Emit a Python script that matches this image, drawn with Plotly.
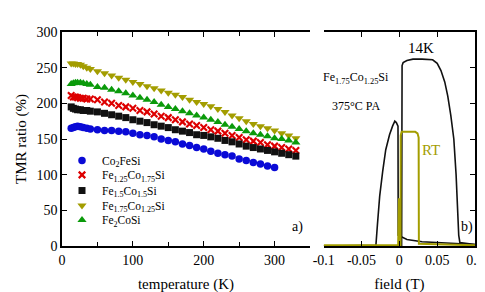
import plotly.graph_objects as go

# ---------------- data: panel a) TMR ratio vs temperature ----------------
T = [13, 16, 19, 22, 26, 30, 35, 40, 50, 60, 70, 80, 90, 100, 110, 120, 130, 140, 150,
     160, 170, 180, 190, 200, 210, 220, 230, 240, 250, 260, 270, 280, 290, 300, 310, 320, 330]

co2fesi = [165, 166, 167, 168, 167, 166, 165, 164, 163, 162, 162, 161, 160, 158, 156, 155, 153,
           150, 148, 146, 143, 141, 138, 136, 133, 130, 128, 126, 122, 120, 117, 115, 112, 110]
fe125 = [211, 209, 209, 208, 207, 207, 206, 206, 205, 202, 200, 197, 195, 193, 190, 188, 185, 182,
         180, 177, 174, 171, 169, 166, 163, 161, 158, 155, 152, 149, 147, 145, 142, 140, 138, 136, 134]
fe15 = [195, 193, 192, 191, 191, 190, 190, 189, 188, 186, 184, 182, 180, 177, 175, 173, 170, 168,
        166, 163, 161, 159, 156, 155, 153, 151, 148, 146, 143, 140, 138, 136, 134, 132, 130, 128, 126]
fe175 = [256, 256, 255, 255, 254, 252, 250, 248, 245, 242, 239, 236, 233, 230, 227, 224, 221, 218,
         215, 212, 209, 205, 202, 199, 196, 192, 188, 183, 179, 175, 171, 168, 165, 162, 158, 155, 151]
fe2cosi = [227, 228, 229, 229, 229, 228, 227, 226, 223, 222, 219, 217, 214, 211, 208, 205, 202, 198,
           195, 192, 189, 186, 183, 180, 177, 174, 170, 167, 164, 161, 158, 156, 154, 151, 150, 148, 145]

# ---------------- data: panel b) TMR loops vs field ----------------
field_14k = [0.1, 0.06, 0.03, 0.01, 0.002, -0.0015, -0.0018, -0.004, -0.006, -0.009, -0.013,
             -0.018, -0.022, -0.026, -0.029, -0.031, -0.1, None,
             -0.1, 0.003, 0.0036, 0.005, 0.01, 0.018, 0.03, 0.044, 0.05, 0.055, 0.06, 0.064,
             0.068, 0.072, 0.075, 0.077, 0.0785, 0.08, 0.09, 0.1]
tmr_14k = [2, 4, 6, 9, 13, 15, 168, 173, 175, 168, 156, 135, 105, 70, 30, 1, 0, None,
           0, 0, 253, 257, 260, 262, 262, 261, 256, 246, 230, 210, 183, 150, 100, 55, 15, 5, 3, 2]

field_rt = [-0.1, 0.0015, 0.0018, 0.003, 0.021, 0.024, 0.0255, 0.0258, 0.1, None,
            -0.0016, -0.0013, -0.0005, -0.0002]
tmr_rt = [1, 1, 155, 160, 160, 158, 152, 3, 1, None,
          1, 67, 67, 1]

temp_ticks = [0, 100, 200, 300]
temp_ticklabels = ["0", "100", "200", "300"]
tmr_ticks = [0, 50, 100, 150, 200, 250, 300]
tmr_ticklabels = ["0", "50", "100", "150", "200", "250", "300"]
field_ticks = [-0.1, -0.05, 0, 0.05, 0.1]
field_ticklabels = ["-0.1", "-0.05", "0", "0.05", "0.1"]

series = [
    ("Co<sub>2</sub>FeSi", co2fesi, "circle", "#0a0ad6", 7.5),
    ("Fe<sub>1.25</sub>Co<sub>1.75</sub>Si", fe125, "x-thin-open", "#dd0000", 6.5),
    ("Fe<sub>1.5</sub>Co<sub>1.5</sub>Si", fe15, "square", "#111111", 7),
    ("Fe<sub>1.75</sub>Co<sub>1.25</sub>Si", fe175, "triangle-down", "#a39d00", 8),
    ("Fe<sub>2</sub>CoSi", fe2cosi, "triangle-up", "#0a9a0a", 8),
]
legend_rows = [0.3996, 0.3323, 0.2592, 0.1891, 0.1217]

SERIF = "Liberation Serif"
fig = go.Figure()

legend_names = ["legend", "legend2", "legend3", "legend4", "legend5"]
for i, (name, vals, sym, col, sz) in enumerate(series):
    marker = dict(symbol=sym, color=col, size=sz)
    if sym == "x-thin-open":
        marker = dict(symbol=sym, color=col, size=sz, line=dict(color=col, width=2.2))
    fig.add_trace(go.Scatter(x=T[:len(vals)], y=vals, mode="markers", name=name,
                             marker=marker, xaxis="x", yaxis="y", legend=legend_names[i]))

fig.add_trace(go.Scatter(x=field_14k, y=tmr_14k, mode="lines", showlegend=False,
                         line=dict(color="#111111", width=1.6), connectgaps=False,
                         xaxis="x2", yaxis="y2"))
fig.add_trace(go.Scatter(x=field_rt, y=tmr_rt, mode="lines", showlegend=False,
                         line=dict(color="#a39d00", width=2), connectgaps=False,
                         xaxis="x2", yaxis="y2"))

axis_common = dict(showline=True, linecolor="black", linewidth=1.5, ticks="inside",
                   tickcolor="black", tickwidth=1.3, ticklen=5, showgrid=False, zeroline=False)
tickfont = dict(size=14, color="black", family=SERIF)

layout_legends = {}
for ln, yrow in zip(legend_names, legend_rows):
    layout_legends[ln] = dict(x=0.0, y=yrow, xanchor="left", yanchor="middle",
                              bgcolor="rgba(0,0,0,0)", font=dict(family=SERIF, size=11.5, color="black"),
                              itemwidth=30)

fig.update_layout(
    template="none",
    width=485, height=292,
    margin=dict(l=54, r=18, t=24, b=54),
    paper_bgcolor="white", plot_bgcolor="white",
    font=dict(family=SERIF, size=13, color="black"),
    xaxis=dict(domain=[0, 0.6005], range=[0, 350], tickvals=temp_ticks, ticktext=temp_ticklabels,
               mirror="ticks", tickfont=tickfont,
               minor=dict(dtick=50, ticks="inside", ticklen=4, tickcolor="black", showgrid=False),
               title=dict(text="temperature (K)", font=dict(family=SERIF, size=15), standoff=12),
               **axis_common),
    yaxis=dict(domain=[0, 1], range=[0, 300], tickvals=tmr_ticks, ticktext=tmr_ticklabels, anchor="x",
               tickfont=tickfont,
               title=dict(text="TMR ratio (%)", font=dict(family=SERIF, size=15), standoff=6),
               **axis_common),
    xaxis2=dict(domain=[0.6337, 1], range=[-0.1, 0.1], anchor="y2", mirror="ticks",
                tickvals=field_ticks, ticktext=field_ticklabels, tickfont=tickfont,
                title=dict(text="field (T)", font=dict(family=SERIF, size=15), standoff=12),
                **axis_common),
    yaxis2=dict(domain=[0, 1], range=[0, 300], tickvals=tmr_ticks, anchor="x2", side="right",
                showticklabels=False, **axis_common),
    showlegend=True,
    **layout_legends,
)

annots = [
    dict(x=0.0286, y=278, xref="x2", yref="y2", text="14K", size=15, color="black"),
    dict(x=-0.057, y=235, xref="x2", yref="y2", text="Fe<sub>1.75</sub>Co<sub>1.25</sub>Si", size=12, color="black"),
    dict(x=-0.057, y=196, xref="x2", yref="y2", text="375°C PA", size=12, color="black"),
    dict(x=0.0424, y=135, xref="x2", yref="y2", text="RT", size=15, color="#a39d00"),
    dict(x=0.090, y=26, xref="x2", yref="y2", text="b)", size=14, color="black"),
    dict(x=333, y=26, xref="x", yref="y", text="a)", size=14, color="black"),
]
for a in annots:
    fig.add_annotation(x=a["x"], y=a["y"], xref=a["xref"], yref=a["yref"], text=a["text"],
                       showarrow=False, font=dict(family=SERIF, size=a["size"], color=a["color"]))

fig.write_html("out.html")
